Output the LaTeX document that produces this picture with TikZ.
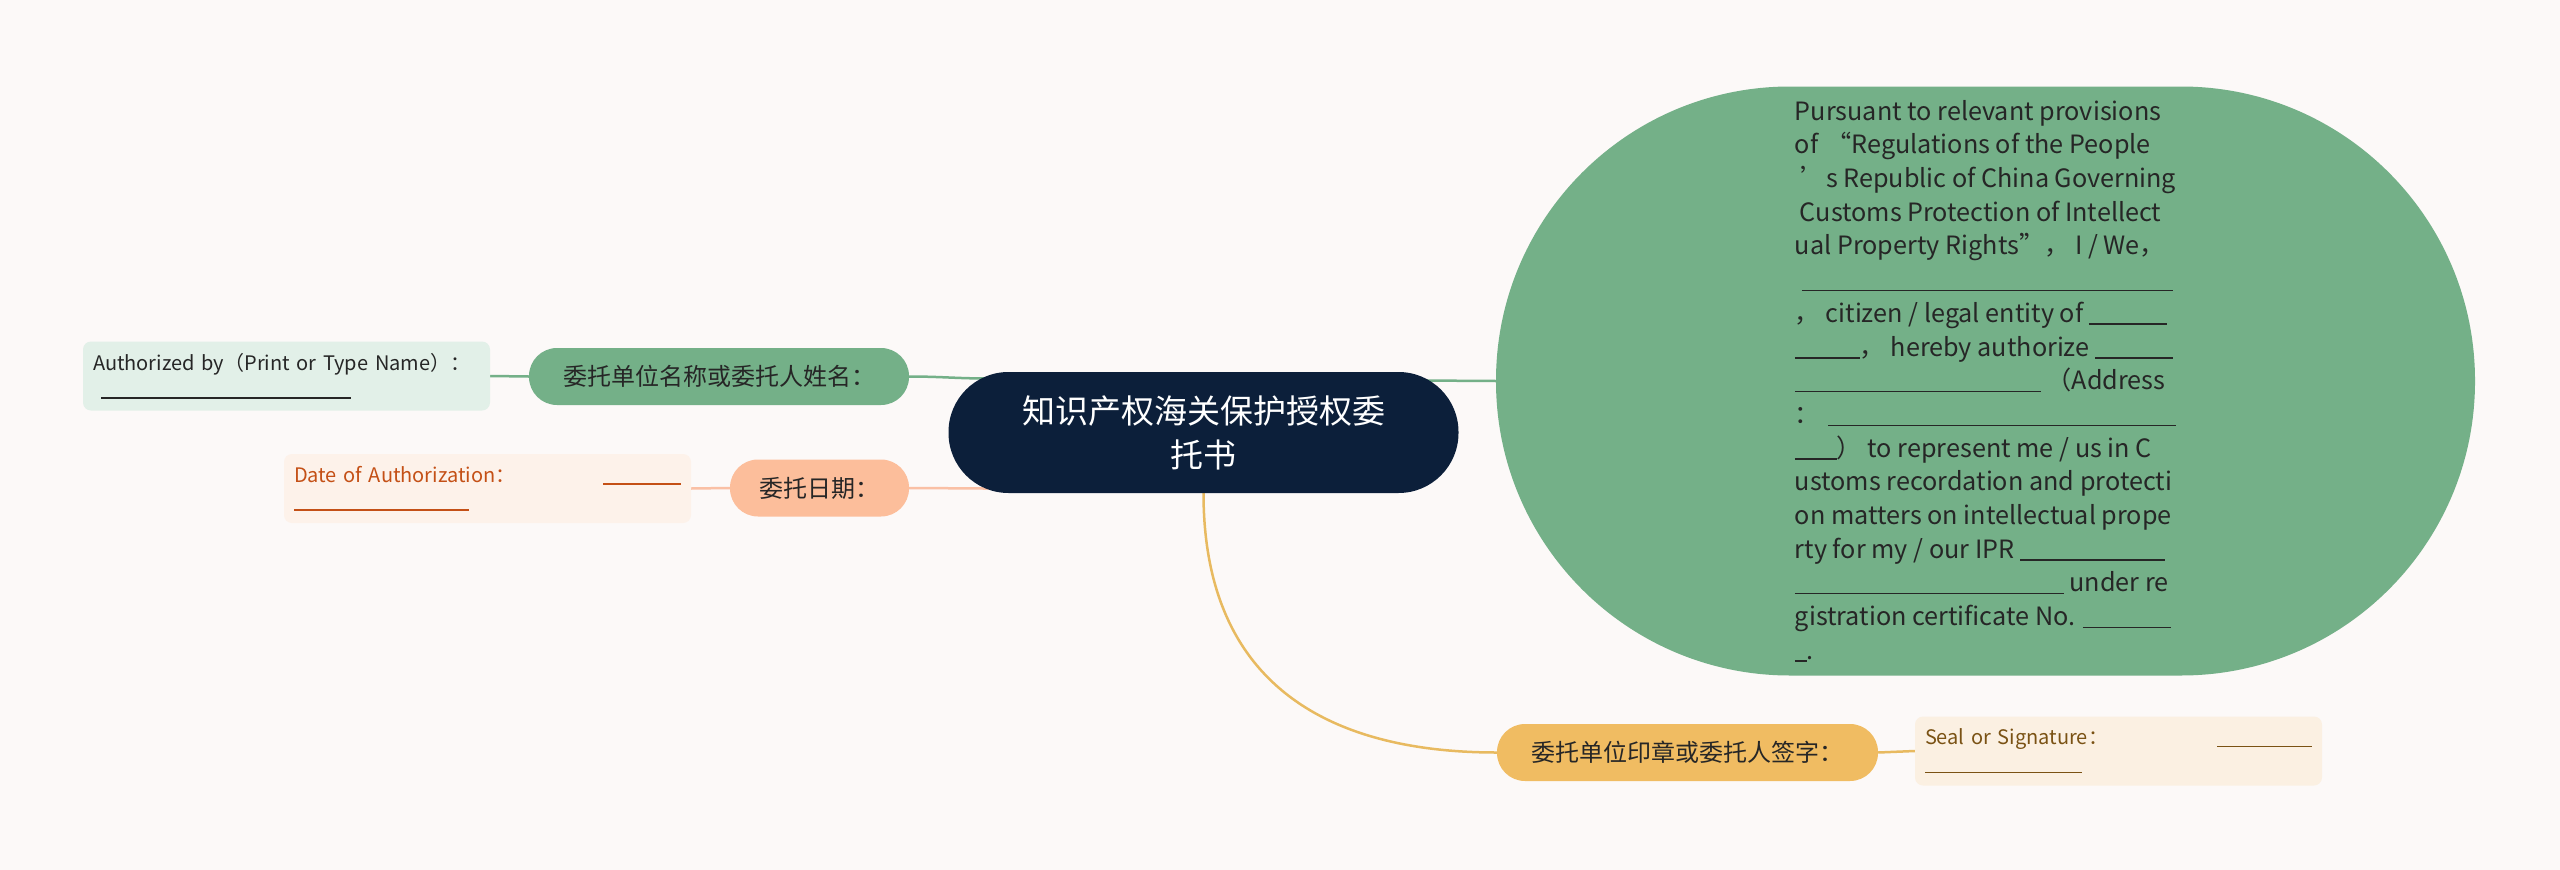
\documentclass[tikz,border=0pt]{standalone}
\usepackage{fontspec}
\setmainfont{Noto Sans CJK SC}
\usepackage{tikz}
\usetikzlibrary{positioning}
\usepackage{xcolor}
\definecolor{mmbg}{RGB}{252,249,248}
\definecolor{mmnavy}{RGB}{12,31,58}
\definecolor{mmgreen}{RGB}{116,176,136}
\definecolor{mmpeach}{RGB}{252,190,155}
\definecolor{mmyellow}{RGB}{240,188,98}
\definecolor{leafgreen}{RGB}{226,240,232}
\definecolor{leafpeach}{RGB}{253,242,234}
\definecolor{leafyellow}{RGB}{251,240,226}
\definecolor{mmtext}{RGB}{38,38,38}
\definecolor{datetext}{RGB}{196,80,22}
\definecolor{sealtext}{RGB}{122,82,20}
\definecolor{linkpeach}{RGB}{250,192,165}
\definecolor{linkyellow}{RGB}{232,186,96}
\tikzstyle{root} = [fill=mmnavy, text=white, rounded corners=60pt, minimum width=510pt, minimum height=121pt, align=center, font=\fontsize{33}{44}\selectfont]
\tikzstyle{branch} = [rounded corners=28pt, minimum height=57pt, inner sep=0pt, text=mmtext, font=\fontsize{24}{30}\selectfont]
\tikzstyle{leaf} = [rounded corners=8pt, minimum width=407pt, minimum height=69pt, inner xsep=10pt, text width=387pt, align=left, font=\fontsize{20}{26}\selectfont]
\tikzstyle{link} = [line width=2.5pt]
\newcommand{\blankrule}[1]{\rule[-2.5pt]{#1pt}{1.4pt}}
\pgfdeclarelayer{links}
\pgfsetlayers{links,main}

\begin{document}
\begin{tikzpicture}[x=1pt,y=-1pt]
% Canvas
\useasboundingbox (0,0) rectangle (2560,870);
\begin{pgfonlayer}{links}
\fill[mmbg] (0,0) rectangle (2560,870);
\end{pgfonlayer}

% Topics
\node[root] (root) at (1203.5,432.5) {知识产权海关保护授权委\\托书};
\node[fill=mmgreen, text=mmtext, rounded corners=294pt, minimum width=979pt, minimum height=589pt, align=left, font=\fontsize{25.2}{33.7}\selectfont] (terms) at (1985.5,381) {Pursuant to relevant provisions\\
of\hspace{8pt}“Regulations of the People\\
\hspace*{6pt}’s Republic of China Governing\\
\hspace*{5pt}Customs Protection of Intellect\\
ual Property Rights”，\ I / We，\\
\hspace*{7pt}\blankrule{371}\\
，\ citizen / legal entity of \blankrule{78}\\
\blankrule{65}，\ hereby authorize \blankrule{78}\\
\blankrule{246}\ （Address\\
：\hspace{8pt}\blankrule{348}\\
\blankrule{42}）\ to represent me / us in C\\
ustoms recordation and protecti\\
on matters on intellectual prope\\
rty for my / our IPR \blankrule{145}\\
\blankrule{269} under re\\
gistration certificate No. \blankrule{88}\\
\blankrule{12}.};
\node[branch, fill=mmgreen, minimum width=380pt] (name) at (719,376.5) {委托单位名称或委托人姓名：};
\node[branch, fill=mmpeach, minimum width=179pt] (date) at (819.5,488) {委托日期：};
\node[branch, fill=mmyellow, minimum width=381pt] (seal) at (1687.5,752.5) {委托单位印章或委托人签字：};

% Leaves
\node[leaf, fill=leafgreen, text=mmtext] (nameleaf) at (286.5,376) {Authorized by（Print or Type Name）：\\\hspace*{8pt}\blankrule{250}};
\node[leaf, fill=leafpeach, text=datetext] (dateleaf) at (487.5,488.5) {Date of Authorization：\hfill\blankrule{78}\hspace*{2pt}\\\blankrule{175}};
\node[leaf, fill=leafyellow, text=sealtext] (sealleaf) at (2118.5,751) {Seal or Signature：\hfill\blankrule{95}\hspace*{2pt}\\\blankrule{157}};

% Links
\begin{pgfonlayer}{links}
\draw[link, mmgreen] (name.east) to[out=0,in=180] ([xshift=40pt,yshift=54pt]root.west);
\draw[link, linkpeach] (date.east) to[out=0,in=180] ([xshift=40pt,yshift=-56pt]root.west);
\draw[link, mmgreen] ([xshift=-40pt,yshift=52pt]root.east) -- (terms.west);
\draw[link, linkyellow] (root.south) .. controls ([yshift=-205pt]root.south) and ([xshift=-150pt]seal.west) .. (seal.west);
\draw[link, mmgreen] (name.west) -- (nameleaf.east);
\draw[link, linkpeach] (date.west) -- (dateleaf.east);
\draw[link, linkyellow] (seal.east) -- (sealleaf.west);
\end{pgfonlayer}
\end{tikzpicture}
\end{document}
